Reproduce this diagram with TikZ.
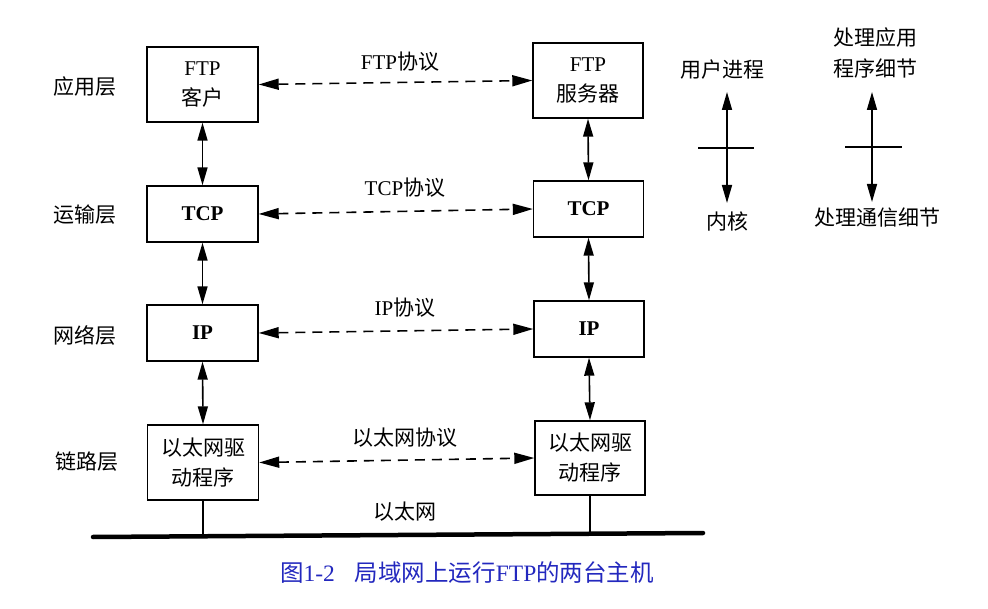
\documentclass[tikz,border=0pt]{standalone}
\usepackage{fontspec}
\setmainfont{Liberation Serif}
\newfontfamily\cjk{Noto Sans CJK SC}
\usetikzlibrary{arrows.meta}
\definecolor{capblue}{RGB}{35,40,190}
\begin{document}
\begin{tikzpicture}[x=1pt,y=-1pt,
  every node/.style={inner sep=0pt},
  txt/.style={font=\fontsize{21}{30}\selectfont, align=center},
  box/.style={draw, line width=1.4pt, minimum width=111pt, txt},
  boldtxt/.style={font=\fontsize{21}{30}\selectfont\bfseries},
  dasharrow/.style={arrows={Triangle[length=20pt,width=11pt]-Triangle[length=20pt,width=11pt]}, dash pattern=on 10pt off 7pt, line width=1.6pt},
  varrow/.style={arrows={Triangle[length=18pt,width=10pt]-Triangle[length=18pt,width=10pt]}, line width=1.6pt},
  bus/.style={line width=4.5pt, line cap=round},
  tie/.style={line width=1.2pt}
]
\useasboundingbox (0,0) rectangle (988,609);

% layer labels
\node[txt] (l1) at (85,87) {\cjk 应用层};
\node[txt] (l2) at (85,215) {\cjk 运输层};
\node[txt] (l3) at (85,335) {\cjk 网络层};
\node[txt] (l4) at (87,462) {\cjk 链路层};

% left host
\node[box, minimum height=75pt] (lf) at (202.5,84.5) {FTP\\{\cjk 客户}};
\node[box, minimum height=56pt, boldtxt] (lt) at (202.5,214) {TCP};
\node[box, minimum height=56pt, boldtxt] (li) at (202.5,333) {IP};
\node[box, minimum height=75pt] (le) at (203,462.5) {{\cjk 以太网驱}\\{\cjk 动程序}};

% right host
\node[box, minimum width=110pt, minimum height=75pt] (rf) at (588,80.5) {FTP\\{\cjk 服务器}};
\node[box, minimum width=110pt, minimum height=56pt, boldtxt] (rt) at (588.5,209) {TCP};
\node[box, minimum width=110pt, minimum height=56pt, boldtxt] (ri) at (589,329) {IP};
\node[box, minimum width=110pt, minimum height=74pt] (re) at (590,458) {{\cjk 以太网驱}\\{\cjk 动程序}};

% protocol labels
\node[txt] (p1) at (400,62) {FTP{\cjk 协议}};
\node[txt] (p2) at (405,188) {TCP{\cjk 协议}};
\node[txt] (p3) at (405,308) {IP{\cjk 协议}};
\node[txt] (p4) at (405,438) {\cjk 以太网协议};
\node[txt] (p5) at (405,512) {\cjk 以太网};

% peer dashed arrows
\draw[dasharrow] (lf.east) -- (rf.west);
\draw[dasharrow] (lt.east) -- (rt.west);
\draw[dasharrow] (li.east) -- (ri.west);
\draw[dasharrow] (le.east) -- (re.west);

% vertical arrows
\draw[varrow] (lf.south) -- (lt.north);
\draw[varrow] (lt.south) -- (li.north);
\draw[varrow] (li.south) -- (le.north);
\draw[varrow] (rf.south) -- (rt.north);
\draw[varrow] (rt.south) -- (ri.north);
\draw[varrow] (ri.south) -- (re.north);

% ethernet bus
\coordinate (busl) at (93,537);
\coordinate (busr) at (703,533);
\coordinate (tl) at (203,536.3);
\coordinate (tr) at (590,533.8);
\draw[bus] (busl) -- (busr);
\draw[tie] (le.south) -- (tl);
\draw[tie] (re.south) -- (tr);

% legend
\node[txt] (u1) at (722,70) {\cjk 用户进程};
\node[txt] (k1) at (727,222) {\cjk 内核};
\coordinate (a1t) at (727,92);
\coordinate (a1b) at (727,203);
\coordinate (t1l) at (698,148);
\coordinate (t1r) at (754,148);
\draw[varrow] (a1t) -- (a1b);
\draw[tie, line width=1.6pt] (t1l) -- (t1r);

\node[txt] (u2) at (875,38) {\cjk 处理应用};
\node[txt] (u3) at (875,69) {\cjk 程序细节};
\node[txt] (k2) at (877,218) {\cjk 处理通信细节};
\coordinate (a2t) at (872,92);
\coordinate (a2b) at (872,202);
\coordinate (t2l) at (845,147);
\coordinate (t2r) at (902,147);
\draw[varrow] (a2t) -- (a2b);
\draw[tie, line width=1.6pt] (t2l) -- (t2r);

% caption
\node[txt, font=\fontsize{23.5}{30}\selectfont, text=capblue] (cap) at (467,573) {{\cjk 图}1-2\hspace{20pt}{\cjk 局域网上运行}FTP{\cjk 的两台主机}};
\end{tikzpicture}
\end{document}
